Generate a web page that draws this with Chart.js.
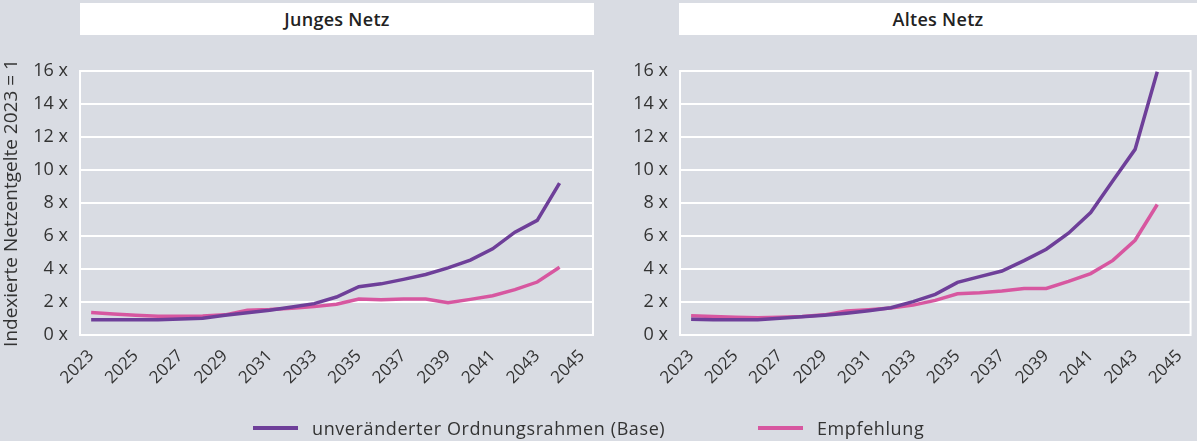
<!DOCTYPE html>
<html lang="de">
<head>
<meta charset="utf-8">
<title>Indexierte Netzentgelte</title>
<script src="https://cdn.jsdelivr.net/npm/chart.js@4"></script>
<style>
    body { margin: 0; background: #d9dce3; font-family: "Open Sans", sans-serif; }
    #wrap { position: relative; width: 1197px; height: 441px; overflow: hidden; }
    .panel-title {
        position: absolute; top: 3px; height: 32px; background: #fff;
        font-weight: 600; font-size: 18px; color: #222; letter-spacing: 0.3px;
        display: flex; align-items: center; justify-content: center;
    }
    canvas { position: absolute; top: 0; }
    #legend { position: absolute; top: 414px; left: 0; width: 1197px; height: 27px; font-size: 18px; color: #333; letter-spacing: 0.6px; }
    .leg { position: absolute; top: 0; display: flex; align-items: center; height: 27px; }
    .leg i { display: inline-block; width: 45px; height: 4px; margin-right: 14px; }
</style>
</head>
<body>
<div id="wrap">
    <div class="panel-title" style="left:80px; width:514px;">Junges Netz</div>
    <div class="panel-title" style="left:679px; width:518px;">Altes Netz</div>
    <canvas id="chart-jung" width="600" height="441" style="left:0;"></canvas>
    <canvas id="chart-alt" width="597" height="441" style="left:600px;"></canvas>
    <div id="legend">
        <div class="leg" style="left:253px;"><i style="background:#6e3f99;"></i>unveränderter Ordnungsrahmen (Base)</div>
        <div class="leg" style="left:758px;"><i style="background:#d757a0;"></i>Empfehlung</div>
    </div>
</div>
<script>
// Jahre (Kategorien) 2023 - 2045
const years = ['2023', '2024', '2025', '2026', '2027', '2028', '2029', '2030', '2031', '2032', '2033', '2034',
    '2035', '2036', '2037', '2038', '2039', '2040', '2041', '2042', '2043', '2044', '2045'];

// Junges Netz
const jungBase = [0.92, 0.92, 0.92, 0.92, 0.97, 1.02, 1.2, 1.35, 1.5, 1.7, 1.9, 2.3,
    2.93, 3.1, 3.37, 3.67, 4.07, 4.54, 5.22, 6.23, 6.95, 9.21];
const jungEmpf = [1.36, 1.28, 1.2, 1.14, 1.14, 1.15, 1.22, 1.5, 1.54, 1.62, 1.72, 1.86,
    2.18, 2.14, 2.18, 2.18, 1.96, 2.16, 2.38, 2.75, 3.21, 4.11];

// Altes Netz
const altBase = [0.96, 0.93, 0.92, 0.92, 1.02, 1.1, 1.2, 1.32, 1.47, 1.65, 2.02, 2.46,
    3.19, 3.54, 3.88, 4.51, 5.2, 6.17, 7.42, 9.35, 11.25, 15.95];
const altEmpf = [1.16, 1.12, 1.08, 1.04, 1.08, 1.12, 1.22, 1.45, 1.53, 1.63, 1.81, 2.1,
    2.5, 2.56, 2.66, 2.82, 2.82, 3.25, 3.72, 4.52, 5.74, 7.91];

const yTicksMax = 16;
const yStep = 2;

const COLORS = { base: '#6e3f99', empf: '#d757a0', grid: '#ffffff', text: '#333333' };

// weißer Rahmen um die Plotfläche
const frame = {
    id: 'frame',
    beforeDatasetsDraw(chart) {
        const { ctx, chartArea: a } = chart;
        ctx.save();
        ctx.strokeStyle = COLORS.grid;
        ctx.lineWidth = 2;
        ctx.strokeRect(a.left, a.top, a.right - a.left, a.bottom - a.top);
        ctx.restore();
    }
};

function makeChart(id, base, empf, showTitle, padRight) {
    return new Chart(document.getElementById(id), {
        type: 'line',
        data: {
            labels: years,
            datasets: [
                { label: 'unveränderter Ordnungsrahmen (Base)', data: base, borderColor: COLORS.base },
                { label: 'Empfehlung', data: empf, borderColor: COLORS.empf }
            ]
        },
        options: {
            responsive: false,
            animation: false,
            layout: { padding: { top: 71, right: padRight, left: 0, bottom: 0 } },
            elements: {
                line: { borderWidth: 3.5, tension: 0, borderCapStyle: 'butt' },
                point: { radius: 0 }
            },
            plugins: { legend: { display: false }, tooltip: { enabled: false } },
            scales: {
                x: {
                    offset: true,
                    grid: { display: false },
                    border: { display: false },
                    afterFit(scale) { scale.height = 106; },
                    ticks: {
                        autoSkip: false,
                        maxRotation: 45,
                        minRotation: 45,
                        padding: 3,
                        color: COLORS.text,
                        font: { family: 'Open Sans', size: 17 },
                        callback(v, i) { return i % 2 === 0 ? years[i] : ''; }
                    }
                },
                y: {
                    min: 0,
                    max: yTicksMax,
                    grid: { color: COLORS.grid, lineWidth: 2, drawTicks: false },
                    border: { display: false },
                    afterFit(scale) { scale.width = 80; },
                    title: {
                        display: showTitle,
                        text: 'Indexierte Netzentgelte 2023 = 1',
                        color: COLORS.text,
                        font: { family: 'Open Sans', size: 19 },
                        padding: 0
                    },
                    ticks: {
                        stepSize: yStep,
                        padding: 12,
                        color: COLORS.text,
                        font: { family: 'Open Sans', size: 18 },
                        callback(v) { return v + ' x'; }
                    }
                }
            }
        },
        plugins: [frame]
    });
}

makeChart('chart-jung', jungBase, jungEmpf, true, 7);
makeChart('chart-alt', altBase, altEmpf, false, 5);
</script>
</body>
</html>
